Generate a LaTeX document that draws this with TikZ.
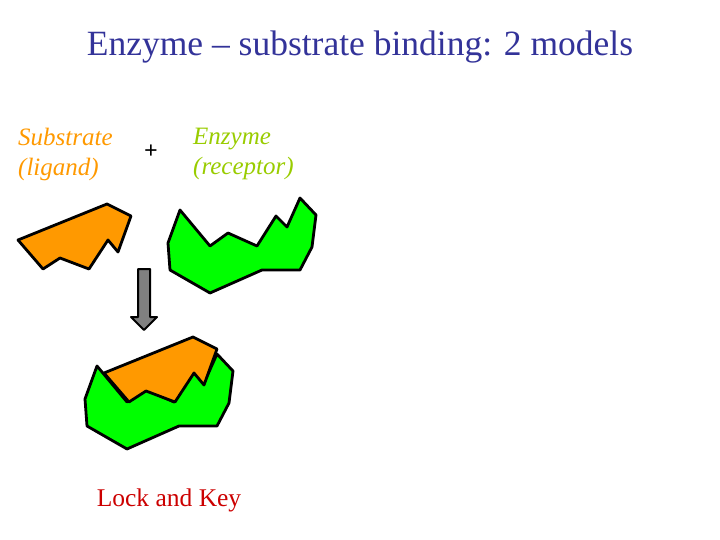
\documentclass[tikz,border=0pt]{standalone}
\usepackage{fontspec}
\setmainfont{Liberation Serif}
\definecolor{titleblue}{RGB}{51,51,153}
\definecolor{subsorange}{RGB}{255,153,0}
\definecolor{enzgreen}{RGB}{0,255,0}
\definecolor{enzlabel}{RGB}{153,204,0}
\tikzset{
  piece/.style={draw=black, line width=2.8pt, line join=round},
  label/.style={font=\fontsize{25}{30}\selectfont\itshape, anchor=west, align=left, inner sep=0pt}
}
\begin{document}
\begin{tikzpicture}[x=1pt, y=-1pt]
  \useasboundingbox (0,0) rectangle (720,540);

  \node[font=\fontsize{35.5}{40}\selectfont, text=titleblue] (title) at (360,47) {Enzyme -- substrate binding: 2 models};

  \node[label, text=subsorange] (subs) at (18,154) {Substrate\\(ligand)};
  \node[font=\fontsize{24}{28}\selectfont\bfseries] (plus) at (151,152) {+};
  \node[label, text=enzlabel] (enz) at (193,154) {Enzyme\\(receptor)};

  % free substrate
  \filldraw[piece, fill=subsorange] (18,240) -- (107,204) -- (131,216) -- (118,252) -- (108,240)
    -- (89,269) -- (60,258) -- (43,269) -- cycle;

  % free enzyme
  \filldraw[piece, fill=enzgreen] (180,210) -- (210,246) -- (228,233) -- (257,246) -- (276,216)
    -- (287,227) -- (300,198) -- (316,215) -- (312,247) -- (300,270) -- (262,270)
    -- (210,293) -- (170,270) -- (168,243) -- cycle;

  % arrow
  \filldraw[draw=black, line width=2pt, line join=round, fill=gray] (138,269) -- (150,269) -- (150,317)
    -- (157,317) -- (144,330) -- (131,317) -- (138,317) -- cycle;

  % bound complex
  \begin{scope}[shift={(-83,156)}]
    \filldraw[piece, fill=enzgreen] (180,210) -- (210,246) -- (228,233) -- (257,246) -- (276,216)
      -- (287,227) -- (300,198) -- (316,215) -- (312,247) -- (300,270) -- (262,270)
      -- (210,293) -- (170,270) -- (168,243) -- cycle;
  \end{scope}
  \begin{scope}[shift={(86,133)}]
    \filldraw[piece, fill=subsorange] (18,240) -- (107,204) -- (131,216) -- (118,252) -- (108,240)
      -- (89,269) -- (60,258) -- (43,269) -- cycle;
  \end{scope}

  \node[font=\fontsize{25.5}{30}\selectfont, text=red!80!black] (lock) at (169,500) {Lock and Key};
\end{tikzpicture}
\end{document}
